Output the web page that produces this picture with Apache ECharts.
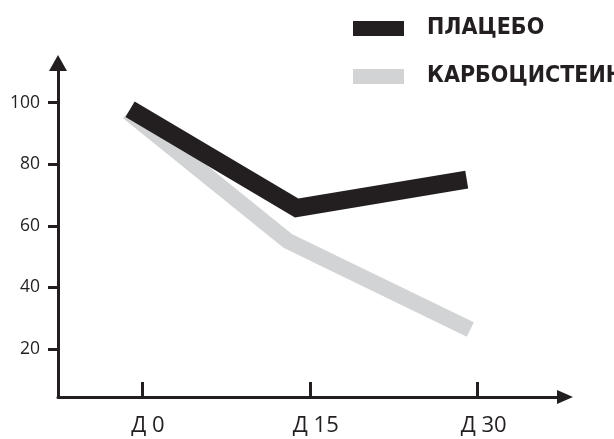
<!DOCTYPE html>
<html>
<head>
<meta charset="utf-8">
<script src="https://cdn.jsdelivr.net/npm/echarts@6/dist/echarts.min.js"></script>
<style>
  html, body { margin: 0; padding: 0; background: #ffffff; }
  #chart { width: 614px; height: 439px; }
</style>
</head>
<body>
<div id="chart"></div>
<script>
// Series names shown in the legend
const seriesNames = ['ПЛАЦЕБО', 'КАРБОЦИСТЕИН'];

// Tick positions on both axes
const dayTicks = [0, 15, 30];
const valueTicks = [20, 40, 60, 80, 100];

// Placebo group: day of measurement and score
const placeboDays = [-1.06, 13.83, 29.02];
const placeboValues = [97.9, 65.8, 75.0];

// Carbocisteine group: day of measurement and score
const carboDays = [-1.24, 13.03, 29.34];
const carboValues = [97.0, 55.1, 26.3];

const ink = '#231f20';
const grey = '#d1d3d4';
const labelFont = "'Open Sans', 'Noto Sans', sans-serif";
const legendFont = "'DejaVu Sans Condensed', 'DejaVu Sans', sans-serif";

const pairs = (xs, ys) => xs.map((x, i) => [x, ys[i]]);

// One legend block per series so each row can be placed on its own
const legendRow = (name, top) => ({
  data: [name],
  orient: 'vertical',
  left: 353,
  top: top,
  padding: 0,
  icon: 'rect',
  itemWidth: 51,
  itemHeight: 15,
  selectedMode: false,
  textStyle: {
    color: ink,
    fontFamily: legendFont,
    fontWeight: 'bold',
    fontSize: 23,
    padding: [0, 0, 0, 18]
  }
});

const chart = echarts.init(document.getElementById('chart'), null, { renderer: 'canvas' });

chart.setOption({
  animation: false,
  backgroundColor: '#ffffff',
  grid: { left: 58, right: 49, top: 63, bottom: 42, containLabel: false },
  legend: [legendRow(seriesNames[0], 17), legendRow(seriesNames[1], 65)],
  xAxis: {
    type: 'value',
    min: -7.5,
    max: 37.8,
    splitLine: { show: false },
    axisLine: {
      show: true,
      onZero: false,
      symbol: ['none', 'triangle'],
      symbolSize: [14, 16],
      lineStyle: { color: ink, width: 3 }
    },
    axisTick: {
      show: true,
      inside: true,
      length: 15,
      customValues: dayTicks,
      lineStyle: { color: ink, width: 3 }
    },
    axisLabel: {
      customValues: dayTicks,
      formatter: v => 'Д ' + v,
      margin: 18,
      padding: [0, 0, 0, 12],
      color: ink,
      fontFamily: labelFont,
      fontSize: 22
    }
  },
  yAxis: {
    type: 'value',
    min: 4.39,
    max: 112.9,
    splitLine: { show: false },
    axisLine: {
      show: true,
      onZero: false,
      symbol: ['none', 'triangle'],
      symbolSize: [18, 16],
      lineStyle: { color: ink, width: 3 }
    },
    axisTick: {
      show: true,
      inside: false,
      length: 10,
      customValues: valueTicks,
      lineStyle: { color: ink, width: 3 }
    },
    axisLabel: {
      customValues: valueTicks,
      margin: 18,
      color: ink,
      fontFamily: labelFont,
      fontSize: 17.5
    }
  },
  series: [
    {
      name: seriesNames[1],
      type: 'line',
      z: 2,
      data: pairs(carboDays, carboValues),
      symbol: 'none',
      color: grey,
      lineStyle: { color: grey, width: 16, cap: 'butt', join: 'miter' }
    },
    {
      name: seriesNames[0],
      type: 'line',
      z: 3,
      data: pairs(placeboDays, placeboValues),
      symbol: 'none',
      color: ink,
      lineStyle: { color: ink, width: 18, cap: 'butt', join: 'miter' }
    }
  ]
});
</script>
</body>
</html>
